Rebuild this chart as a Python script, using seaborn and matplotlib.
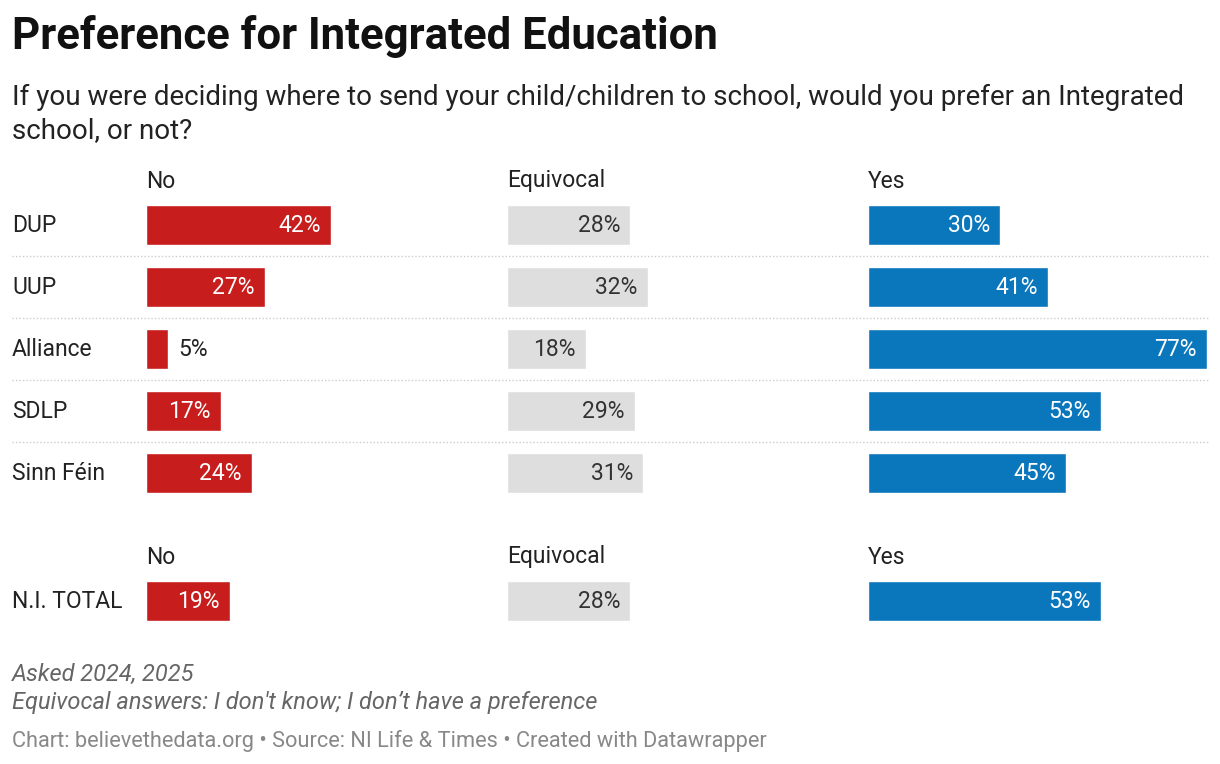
import matplotlib
matplotlib.use('Agg')
import matplotlib.pyplot as plt
import seaborn as sns
import pandas as pd

sns.set_theme(style='white')
plt.rcParams['font.family'] = ['Roboto', 'DejaVu Sans']

# Data
parties = ['DUP', 'UUP', 'Alliance', 'SDLP', 'Sinn Féin']
no_vals = [42, 27, 5, 17, 24]
equiv_vals = [28, 32, 18, 29, 31]
yes_vals = [30, 41, 77, 53, 45]
total_label = ['N.I. TOTAL']
total_no = [19]
total_equiv = [28]
total_yes = [53]
columns = ['No', 'Equivocal', 'Yes']
colors = ['#c71e1d', '#dedede', '#0a77bd']
txt_colors = ['white', '#333333', 'white']

W, H = 1220, 764
fig = plt.figure(figsize=(W / 100, H / 100), dpi=100)

col_x = [146, 507, 868]
col_w = 340
max_pct = 77.3
row_h = 62
FS = 16.5

def px_axes(x0, y0, w, h):
    return fig.add_axes([x0 / W, 1 - (y0 + h) / H, w / W, h / H])

def draw_block(labels, series, top):
    n = len(labels)
    for ci, (vals, c) in enumerate(zip(series, colors)):
        ax = px_axes(col_x[ci], top, col_w, n * row_h)
        df = pd.DataFrame({'party': labels, 'v': vals})
        sns.barplot(data=df, x='v', y='party', color=c, width=0.63,
                    saturation=1, ax=ax)
        ax.set_xlim(0, max_pct)
        ax.set_ylim(n - 0.5, -0.5)
        ax.axis('off')
        for i, v in enumerate(vals):
            if v >= 8:
                ax.text(v - 2.3, i, f'{v}%', ha='right', va='center',
                        color=txt_colors[ci], fontsize=FS)
            else:
                ax.text(v + 2.4, i, f'{v}%', ha='left', va='center',
                        color='#222222', fontsize=FS)
        fig.text(col_x[ci] / W, 1 - (top - 13) / H, columns[ci],
                 ha='left', va='center', fontsize=FS, color='#222222')
    for i, lab in enumerate(labels):
        fig.text(12 / W, 1 - (top + row_h * i + row_h / 2) / H, lab,
                 ha='left', va='center', fontsize=FS, color='#222222')

draw_block(parties, [no_vals, equiv_vals, yes_vals], 194)
draw_block(total_label, [total_no, total_equiv, total_yes], 570)

# dotted separators
for i in range(1, len(parties)):
    y = 1 - (194 + row_h * i) / H
    fig.add_artist(plt.Line2D([12 / W, 1208 / W], [y, y], color='#cccccc',
                              lw=1, linestyle=(0, (1, 1.5))))

fig.text(12 / W, 1 - 36 / H, 'Preference for Integrated Education',
         fontsize=31.5, fontweight='bold', ha='left', va='center', color='#111111')
fig.text(12 / W, 1 - 97 / H,
         'If you were deciding where to send your child/children to school, would you prefer an Integrated',
         fontsize=20, ha='left', va='center', color='#222222')
fig.text(12 / W, 1 - 131 / H, 'school, or not?',
         fontsize=20, ha='left', va='center', color='#222222')
fig.text(12 / W, 1 - 674 / H, 'Asked 2024, 2025', fontsize=17, style='italic',
         ha='left', va='center', color='#666666')
fig.text(12 / W, 1 - 703 / H, "Equivocal answers: I don't know; I don’t have a preference",
         fontsize=17, style='italic', ha='left', va='center', color='#666666')
fig.text(12 / W, 1 - 741 / H,
         'Chart: believethedata.org • Source: NI Life & Times • Created with Datawrapper',
         fontsize=15.7, ha='left', va='center', color='#888888')

fig.savefig('out.png', dpi=100, facecolor='white')
